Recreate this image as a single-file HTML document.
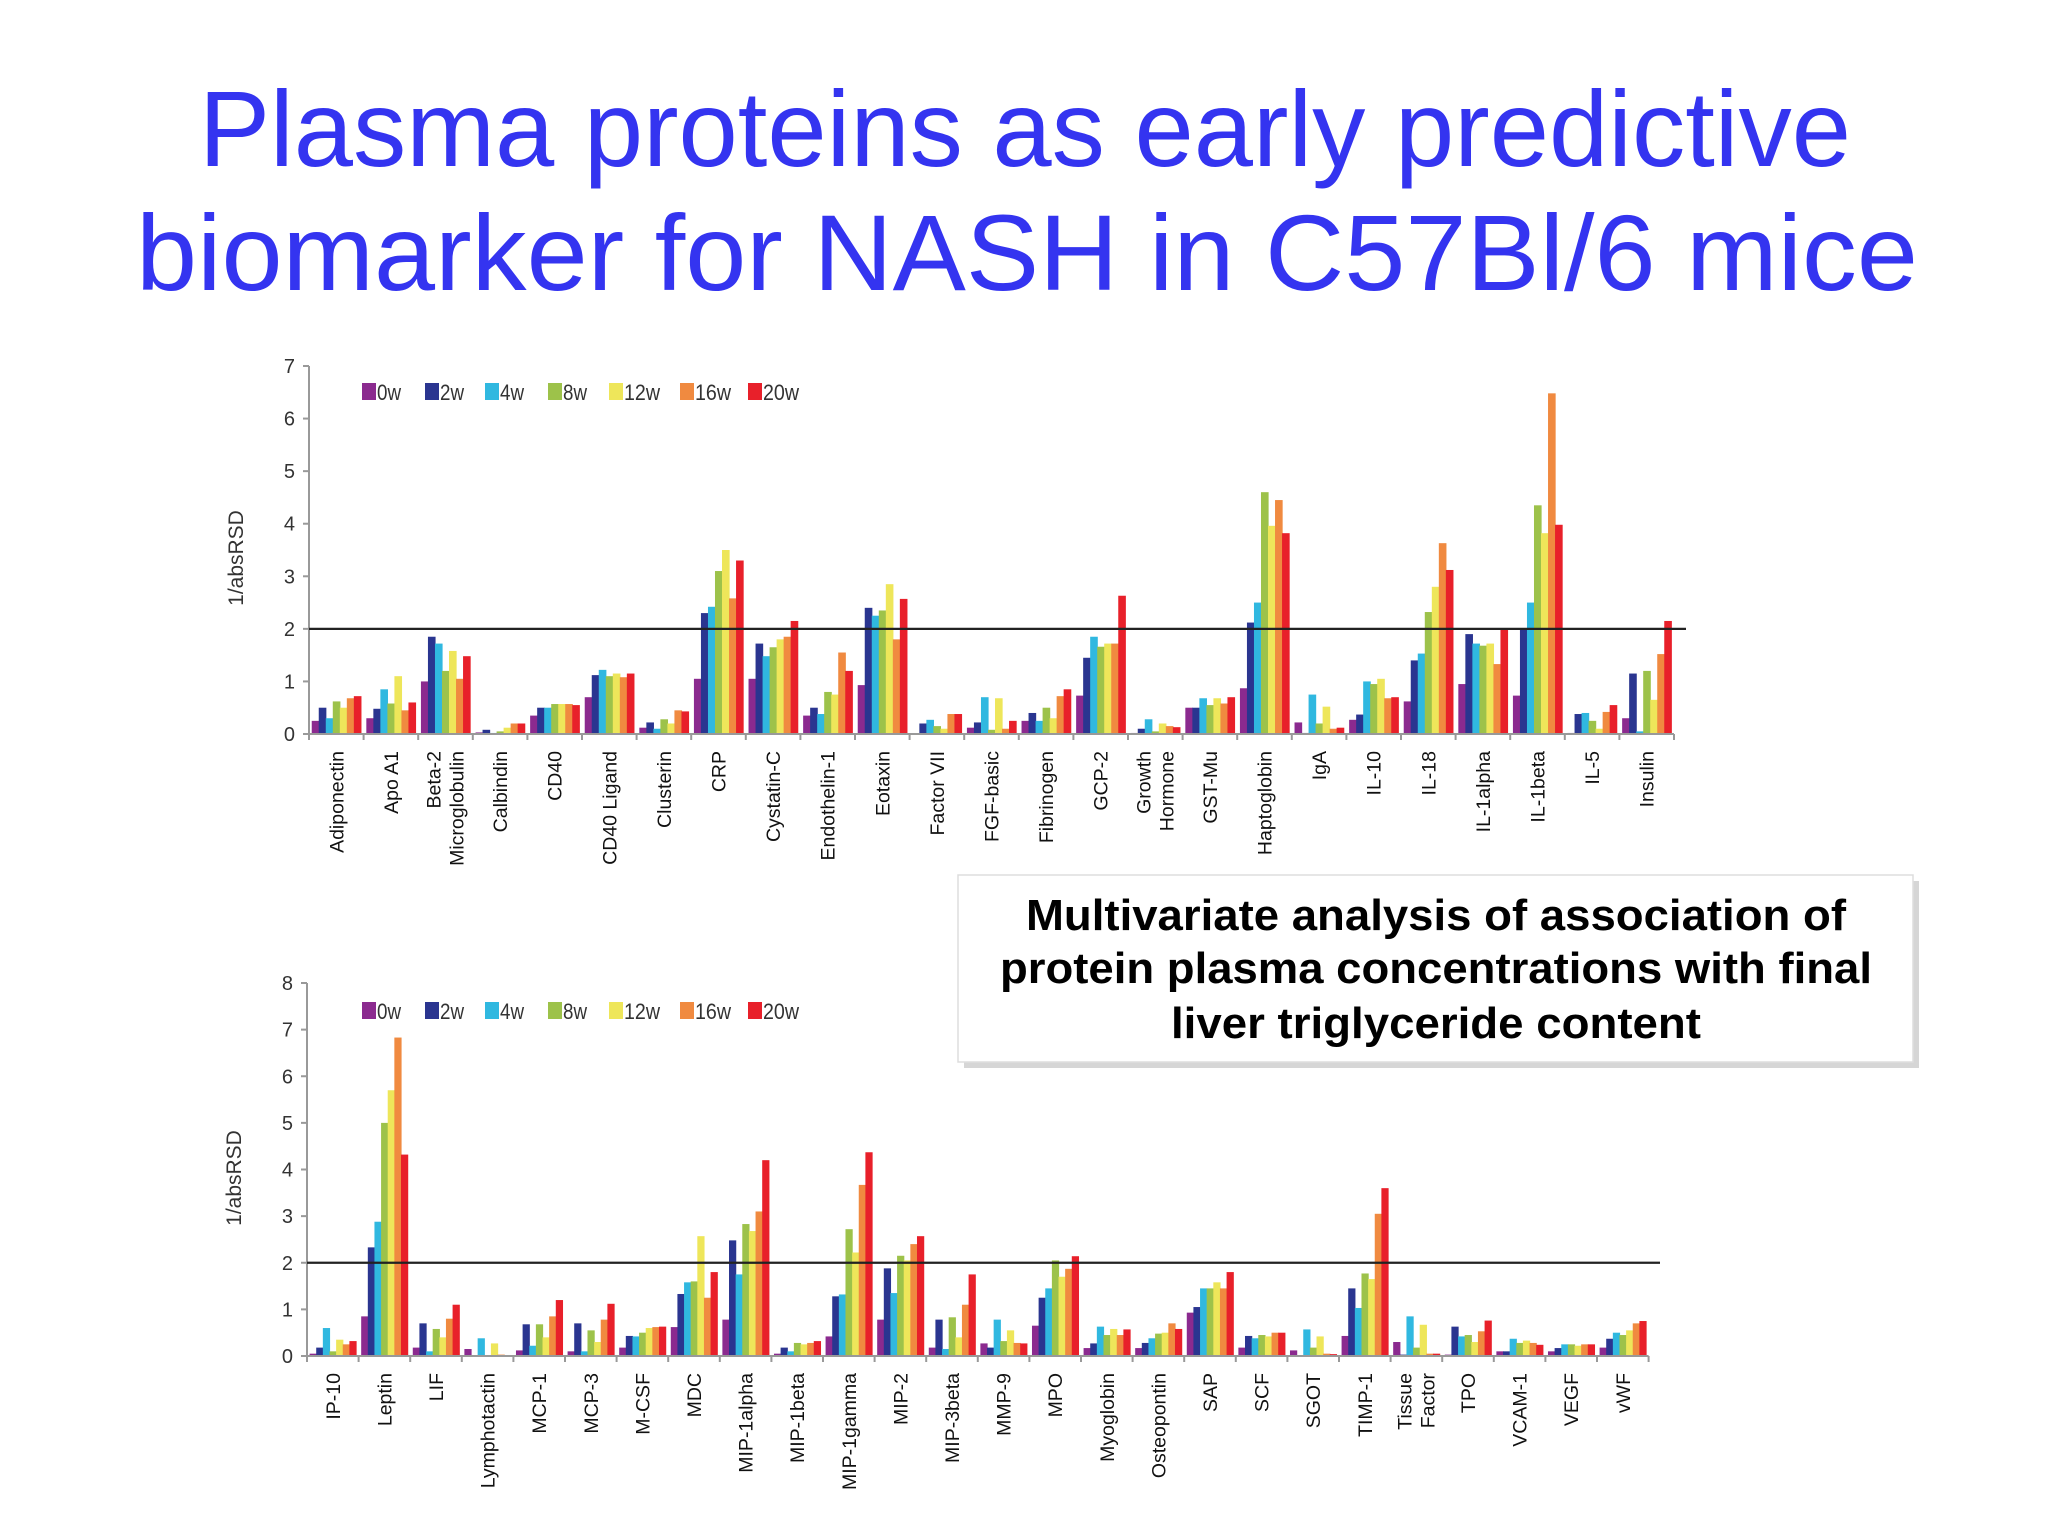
<!DOCTYPE html>
<html><head><meta charset="utf-8">
<style>
html,body{margin:0;padding:0;background:#fff;}
svg{display:block;}
text{font-family:"Liberation Sans",sans-serif;}
</style></head>
<body>
<svg id="s" width="2048" height="1536" viewBox="0 0 2048 1536" xmlns="http://www.w3.org/2000/svg">
<g fill="#3434f0" font-size="108">
<text x="199" y="166" textLength="1652" lengthAdjust="spacingAndGlyphs">Plasma proteins as early predictive</text>
<text x="136" y="290" textLength="1782" lengthAdjust="spacingAndGlyphs">biomarker for NASH in C57Bl/6 mice</text>
</g>
<g>
<rect x="964" y="881" width="955" height="187" fill="#bbb" opacity="0.6"/>
<rect x="958" y="875" width="955" height="187" fill="#fff" stroke="#ddd" stroke-width="1.5"/>
<g font-weight="bold" font-size="44" fill="#000" text-anchor="middle">
<text x="1436" y="930" textLength="820" lengthAdjust="spacingAndGlyphs">Multivariate analysis of association of</text>
<text x="1436" y="983" textLength="872" lengthAdjust="spacingAndGlyphs">protein plasma concentrations with final</text>
<text x="1436" y="1038" textLength="530" lengthAdjust="spacingAndGlyphs">liver triglyceride content</text>
</g>
</g>
<g id="top"></g>
<g id="bot"></g>
</svg>
<script>
var seriesNames = ["0w","2w","4w","8w","12w","16w","20w"];
var seriesColors = ["#8b2a8f","#2a3590","#30b8e0","#9dc24a","#eee65a","#f08a40","#e8202a"];

var topCategories = ["Adiponectin","Apo A1","Beta-2|Microglobulin","Calbindin","CD40","CD40 Ligand","Clusterin","CRP","Cystatin-C","Endothelin-1","Eotaxin","Factor VII","FGF-basic","Fibrinogen","GCP-2","Growth|Hormone","GST-Mu","Haptoglobin","IgA","IL-10","IL-18","IL-1alpha","IL-1beta","IL-5","Insulin"];
var topValues = [
[0.25,0.5,0.3,0.62,0.5,0.68,0.72],
[0.3,0.48,0.85,0.58,1.1,0.45,0.6],
[1.0,1.85,1.72,1.2,1.58,1.05,1.48],
[0.03,0.08,0.02,0.05,0.12,0.2,0.2],
[0.35,0.5,0.5,0.57,0.57,0.57,0.55],
[0.7,1.12,1.22,1.1,1.15,1.08,1.15],
[0.12,0.22,0.1,0.28,0.2,0.45,0.43],
[1.05,2.3,2.42,3.1,3.5,2.58,3.3],
[1.05,1.72,1.48,1.65,1.8,1.85,2.15],
[0.35,0.5,0.38,0.8,0.75,1.55,1.2],
[0.93,2.4,2.25,2.35,2.85,1.8,2.57],
[0.0,0.2,0.27,0.15,0.1,0.38,0.38],
[0.12,0.22,0.7,0.08,0.68,0.1,0.25],
[0.25,0.4,0.25,0.5,0.3,0.72,0.85],
[0.73,1.45,1.85,1.66,1.72,1.72,2.63],
[0.02,0.1,0.28,0.05,0.2,0.15,0.13],
[0.5,0.5,0.68,0.55,0.68,0.58,0.7],
[0.87,2.12,2.5,4.6,3.96,4.45,3.82],
[0.22,0.02,0.75,0.2,0.52,0.1,0.12],
[0.27,0.37,1.0,0.95,1.05,0.68,0.7],
[0.62,1.4,1.53,2.32,2.8,3.63,3.12],
[0.95,1.9,1.72,1.68,1.72,1.33,2.0],
[0.73,2.0,2.5,4.35,3.82,6.48,3.98],
[0.02,0.38,0.4,0.25,0.1,0.42,0.55],
[0.3,1.15,0.05,1.2,0.65,1.52,2.15]
];
var topTicks = ["0","1","2","3","4","5","6","7"];

var botCategories = ["IP-10","Leptin","LIF","Lymphotactin","MCP-1","MCP-3","M-CSF","MDC","MIP-1alpha","MIP-1beta","MIP-1gamma","MIP-2","MIP-3beta","MMP-9","MPO","Myoglobin","Osteopontin","SAP","SCF","SGOT","TIMP-1","Tissue|Factor","TPO","VCAM-1","VEGF","vWF"];
var botValues = [
[0.05,0.18,0.6,0.1,0.35,0.25,0.32],
[0.85,2.33,2.88,5.0,5.7,6.83,4.32],
[0.18,0.7,0.1,0.58,0.4,0.8,1.1],
[0.15,0.02,0.38,0.02,0.27,0.03,0.02],
[0.12,0.68,0.22,0.68,0.4,0.85,1.2],
[0.1,0.7,0.1,0.55,0.3,0.78,1.12],
[0.18,0.43,0.42,0.5,0.6,0.62,0.63],
[0.62,1.33,1.58,1.6,2.57,1.25,1.8],
[0.78,2.48,1.75,2.83,2.68,3.1,4.2],
[0.05,0.18,0.1,0.28,0.25,0.28,0.32],
[0.42,1.28,1.32,2.72,2.22,3.67,4.37],
[0.78,1.88,1.35,2.15,2.05,2.4,2.57],
[0.18,0.78,0.15,0.83,0.4,1.1,1.75],
[0.27,0.18,0.78,0.32,0.55,0.28,0.27],
[0.65,1.25,1.45,2.05,1.7,1.87,2.14],
[0.17,0.27,0.63,0.45,0.58,0.45,0.57],
[0.17,0.28,0.38,0.48,0.5,0.7,0.58],
[0.93,1.05,1.45,1.45,1.58,1.45,1.8],
[0.18,0.43,0.38,0.45,0.42,0.5,0.5],
[0.12,0.02,0.57,0.18,0.42,0.05,0.04],
[0.43,1.45,1.03,1.77,1.65,3.05,3.6],
[0.3,0.03,0.85,0.18,0.67,0.05,0.05],
[0.03,0.63,0.42,0.45,0.3,0.53,0.76],
[0.1,0.1,0.37,0.28,0.33,0.28,0.24],
[0.1,0.17,0.25,0.25,0.22,0.25,0.25],
[0.18,0.37,0.5,0.45,0.55,0.7,0.75]
];
var botTicks = ["0","1","2","3","4","5","6","7","8"];
var thresholdValue = 2;

var NS = "http://www.w3.org/2000/svg";
function mk(parent, tag, attrs){
  var e = document.createElementNS(NS, tag);
  for (var k in attrs) e.setAttribute(k, attrs[k]);
  parent.appendChild(e);
  return e;
}

function drawChart(g, cfg, cats, vals, ticks, prefix){
  var yMax = ticks.length - 1;
  var catW = cfg.catW;
  function yScale(v){ return cfg.y0 - (v / yMax) * (cfg.y0 - cfg.yTop); }
  function xScale(i){ return cfg.x0 + i * catW; }
  var xEnd = xScale(cats.length);

  var bw = catW * 0.9 / seriesNames.length;
  for (var i = 0; i < cats.length; i++){
    var gx = xScale(i) + catW * 0.05;
    for (var s = 0; s < seriesNames.length; s++){
      var v = vals[i][s];
      var r = mk(g, "rect", {x: (gx + s * bw).toFixed(2), y: yScale(v).toFixed(2), width: (bw + 0.6).toFixed(2), height: (cfg.y0 - yScale(v)).toFixed(2), fill: seriesColors[s]});
      
      
    }
  }
  var ya = mk(g, "line", {x1: cfg.x0, y1: cfg.y0, x2: cfg.x0, y2: cfg.yTop, stroke: "#999", "stroke-width": 2});
  
  
  for (var t = 0; t < ticks.length; t++){
    var ty = yScale(t);
    var tk = mk(g, "line", {x1: cfg.x0 - 6, y1: ty, x2: cfg.x0, y2: ty, stroke: "#999", "stroke-width": 2});
    
    
    var tl = mk(g, "text", {x: cfg.x0 - 14, y: ty + 7, "text-anchor": "end", "font-size": 20, fill: "#333"});
    tl.textContent = ticks[t];
    
    
  }
  var xa = mk(g, "line", {x1: cfg.x0, y1: cfg.y0, x2: xEnd, y2: cfg.y0, stroke: "#999", "stroke-width": 2});
  
  
  for (var i = 0; i <= cats.length; i++){
    var xt = mk(g, "line", {x1: xScale(i), y1: cfg.y0, x2: xScale(i), y2: cfg.y0 + 6, stroke: "#999", "stroke-width": 2});
    
    
  }
  for (var i = 0; i < cats.length; i++){
    var parts = cats[i].split('|');
    var cx = xScale(i) + catW / 2;
    var ly = cfg.y0 + 17;
    for (var p = 0; p < parts.length; p++){
      var off = parts.length === 1 ? 7 : (p === 0 ? -5 : 18);
      var lx = cx + off;
      var lt = mk(g, "text", {x: lx, y: ly, "text-anchor": "end", "font-size": 19.5, fill: "#111", transform: "rotate(-90 " + lx + " " + ly + ")"});
      lt.textContent = parts[p];
      
      
    }
  }
  var th = mk(g, "line", {x1: cfg.x0, y1: yScale(thresholdValue), x2: cfg.lineEnd, y2: yScale(thresholdValue), stroke: "#222", "stroke-width": 2.2});
  
  
  var yt = mk(g, "text", {x: cfg.titleX, y: cfg.titleY, "text-anchor": "middle", "font-size": 21, fill: "#333", transform: "rotate(-90 " + cfg.titleX + " " + cfg.titleY + ")"});
  yt.textContent = "1/absRSD";
  
  
  var lg = mk(g, "g", {});
  
  
  var legX = [362, 425, 485, 548, 609, 680, 748];
  for (var s = 0; s < seriesNames.length; s++){
    var sq = mk(lg, "rect", {x: legX[s], y: cfg.legY - 9, width: 14, height: 17, fill: seriesColors[s]});
    
    
    var ltx = mk(lg, "text", {x: legX[s] + 15, y: cfg.legY + 8, "font-size": 22, fill: "#333", textLength: (seriesNames[s].length * 12), lengthAdjust: "spacingAndGlyphs"});
    ltx.textContent = seriesNames[s];
    
    
  }
}

drawChart(document.getElementById('top'), {x0: 309, catW: 54.6, y0: 734, yTop: 366, lineEnd: 1686, titleX: 243, titleY: 558, legY: 392}, topCategories, topValues, topTicks, 'top');
drawChart(document.getElementById('bot'), {x0: 307, catW: 51.6, y0: 1356, yTop: 983, lineEnd: 1660, titleX: 241, titleY: 1178, legY: 1011}, botCategories, botValues, botTicks, 'bottom');
</script>
</body></html>
